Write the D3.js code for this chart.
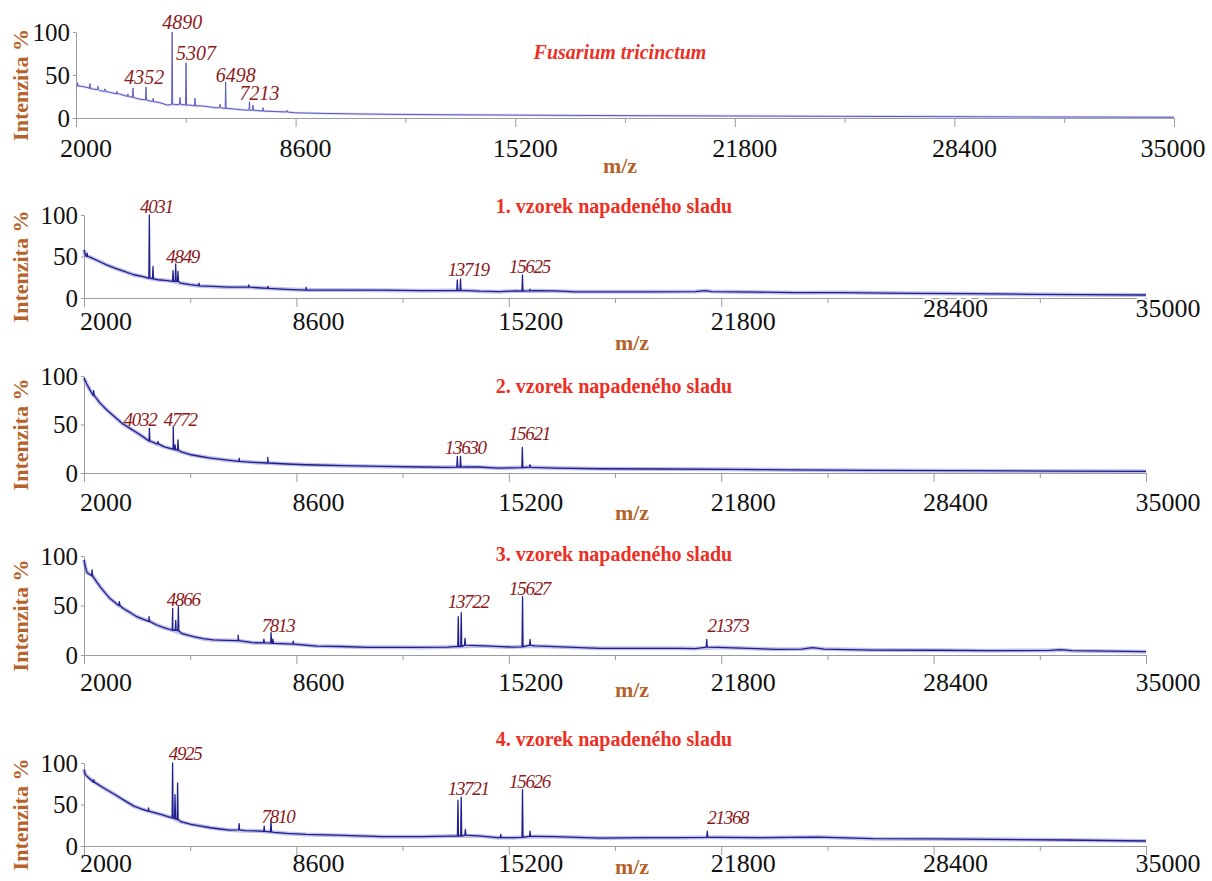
<!DOCTYPE html>
<html>
<head>
<meta charset="utf-8">
<script src="https://cdn.jsdelivr.net/npm/d3@7"></script>
<style>
  body { margin: 0; background: #fff; }
  svg { display: block; }
  svg text { font-family: "Liberation Serif", "Times New Roman", serif !important; }
</style>
</head>
<body>
<div id="chart"></div>
<script>
var w = 1212, h = 881;
var serif = "'Liberation Serif', 'Times New Roman', serif";

// axis values
var mzTicks = [2000, 8600, 15200, 21800, 28400, 35000];
var mzMinor = [5300, 11900, 18500, 25100, 31700];
var yTicks = [0, 50, 100];

var titles = ["Fusarium tricinctum",
              "1. vzorek napadeného sladu",
              "2. vzorek napadeného sladu",
              "3. vzorek napadeného sladu",
              "4. vzorek napadeného sladu"];

// baseline of each spectrum: [m/z, intensity %]
var base1 = [[2000,38],[2150,37],[2400,35],[2700,32],[3000,30],[3300,28],[3600,25],[3900,22],[4200,20],
  [4500,18],[4750,15],[5100,15.5],[5400,15],[5800,14],[6200,12],[6600,11],[7000,9.5],[7500,8.5],[8000,7.5],
  [8600,6],[9500,5.3],[10500,4.7],[11700,4.2],[13000,3.8],[15000,3.4],[17000,3],[19000,2.7],[22000,2.3],
  [25000,1.9],[28000,1.6],[31000,1.2],[35000,0.9]];
var base2 = [[2000,58],[2050,51],[2200,49],[2480,44],[2700,40],[2960,36],[3250,32],[3550,28],[3800,26],
  [4000,24],[4300,22],[4600,21],[4750,20],[5000,18],[5300,16],[5600,14.5],[6000,14],[6500,13],[7100,13],
  [7700,11.7],[8300,10.5],[8900,9.6],[10000,9.5],[11300,9.4],[12500,8.8],[13400,9],[13900,9],[14300,8.2],
  [14900,7.6],[15400,8.5],[16000,8.8],[16600,8.5],[17300,7.5],[18000,7.4],[19500,7.5],[21000,7.8],
  [21300,8.8],[21500,7.8],[23000,7],[24100,6.4],[25500,6.5],[27700,5.6],[29500,5.2],[31400,4.4],[33000,4],
  [35000,3.6]];
var base3 = [[2000,98],[2080,92],[2180,86],[2250,82],[2360,78],[2500,72],[2710,65],[2950,58],[3190,51],
  [3430,46],[3670,41],[3850,37],[4020,33],[4260,30],[4500,27],[4770,24.6],[5050,21.5],[5330,18.8],
  [5630,17],[5930,15.4],[6400,13.5],[6820,12],[7250,11],[7710,10.3],[8300,9.3],[8900,8.5],[9500,8],
  [10080,7.5],[11280,6.8],[12470,6.2],[13300,5.8],[13900,6.4],[14250,6.2],[14850,5.1],[15300,5.3],
  [15900,5.8],[16630,5.1],[18035,4.4],[20000,4.1],[22000,3.8],[24000,3.2],[26530,2.7],[29000,2.4],
  [32000,2],[35000,1.7]];
var base4 = [[2000,96],[2050,88],[2100,83],[2240,81],[2350,76],[2500,69],[2650,63],[2810,57],[3000,52],
  [3220,47],[3430,43],[3640,38.7],[3850,36],[4020,34.6],[4260,30.3],[4500,27.5],[4760,25],[5050,21.5],
  [5400,18.5],[5700,16.5],[6010,15.2],[6400,14.8],[6790,14.5],[7250,12.4],[7800,12],[8500,11],[9230,9],
  [10000,8.6],[10785,7.8],[11820,7.8],[12470,7.7],[13300,8],[13530,8.4],[14250,9.4],[14960,8.4],
  [15300,8],[16000,9.2],[16630,8.4],[18035,6.7],[20460,6.7],[21000,6.5],[21700,7.8],[23490,5.7],
  [24300,6],[24640,7.4],[25000,6],[26520,5],[28500,4.8],[30150,4.4],[32000,4.6],[32350,5.4],
  [32700,4.4],[35000,3.4]];
var base5 = [[2000,92],[2040,86],[2150,82],[2357,76],[2650,69],[2957,62],[3250,55],[3553,48],[3800,44.5],
  [4004,42],[4385,38],[4735,34],[5030,29],[5330,26],[5630,24],[5930,22],[6230,20.5],[6525,19.2],
  [7000,18.5],[7470,18],[7900,16.5],[8310,15.2],[8900,14],[10080,12.8],[11280,11.2],[12470,11.2],
  [13420,12],[14250,12.2],[14850,10],[15325,10],[16000,11.5],[16630,11.2],[18035,9.5],[19500,10],
  [20460,10],[21600,10.5],[23000,10],[24810,10.8],[26520,8.8],[28500,8.5],[30150,8],[32500,7.2],
  [35000,6]];

// peaks: [m/z, foot intensity, apex intensity]
var peaks1 = [[2050,37,41],[2420,34,40],[2660,33,37],[2870,31,34],[3230,28,31],[3560,25,28],[3713,24,35],
  [4104,21,36],[4320,19,23],[4890,16,100],[5126,16,24],[5307,15,64],[5577,14,23],[6330,12,16],
  [6498,11,42],[7213,9,19],[7320,9,15],[7620,8,12],[8340,7,9]];
var peaks2 = [[2100,50,54],[4031,24,100],[4144,23,38],[4766,20,33],[4849,20,41],[4920,20,32],
  [5574,15,18],[7120,13,15.7],[7718,11.7,14],[8900,9.6,13],[13600,9,21.7],[13700,9,23],
  [15625,8.2,27.7],[15860,8.5,10.5]];
var peaks3 = [[2300,80,85],[4032,33,46],[4300,30,32.5],[4772,24.6,48],[4830,24,29],[4920,23.5,34],
  [6820,12,15.4],[7710,10.3,16],[13600,6,17],[13700,6,17],[15621,5.5,26.3],[15860,6,8.5]];
var peaks4 = [[2250,80,86],[3100,50,54],[4020,34,38.7],[4756,25,47],[4850,25,35],[4932,24.5,48.8],
  [6790,14.5,20],[7590,12.2,16],[7813,12,22.5],[7870,11.8,16],[8500,11,14],[13630,8.5,38.7],
  [13722,8.5,42.7],[13840,10,16.8],[15627,8.2,58.9],[15860,10,15.8],[21350,8,15.8]];
var peaks5 = [[2300,77,80],[4004,42,46],[4753,34,100],[4828,33,62],[4909,32,76],[6820,19.5,26.9],
  [7600,17.5,24],[7810,17,30],[13620,12,55],[13721,12,59],[13850,13,20],[14950,10,14],
  [15626,10.5,68],[15860,11.5,18],[21368,10.5,18]];

// peak labels: [m/z, intensity of label baseline, anchor]
var labels1 = [[4352,40,"end"],[4890,104],[5307,68],[6498,42.4],[7213,21.5]];
var labels2 = [[4031,102],[4849,42],[13719,26.7],[15625,30.7]];
var labels3 = [[4032,48,"end"],[4772,48],[13630,20],[15621,34.4]];
var labels4 = [[4866,49],[7813,23.7],[13722,47.5],[15627,60.8],[21373,23.7,"start"]];
var labels5 = [[4925,104],[7810,27.5],[13721,61],[15626,70],[21368,26.3,"start"]];

// page layout of the five stacked panels
var layout = [
  {x0: 76, x1: 1174, top: 32,  axis: 118, titleX: 620, titleY: 59,  tickY: 157, mzX: 620, mzY: 173, labShift: 10, peakShift: 10},
  {x0: 84, x1: 1146, top: 215, axis: 298, titleX: 614, titleY: 213, tickY: 330, mzX: 632, mzY: 350, labShift: 22, peakShift: 7},
  {x0: 84, x1: 1146, top: 376, axis: 473, titleX: 614, titleY: 393, tickY: 511, mzX: 632, mzY: 520, labShift: 22, peakShift: 7},
  {x0: 84, x1: 1146, top: 556, axis: 655, titleX: 614, titleY: 561, tickY: 691, mzX: 632, mzY: 697, labShift: 22, peakShift: 7},
  {x0: 84, x1: 1146, top: 763, axis: 846, titleX: 614, titleY: 746, tickY: 872, mzX: 632, mzY: 874, labShift: 22, peakShift: 7}
];

var spectra = [
  {base: base1, peaks: peaks1, labels: labels1},
  {base: base2, peaks: peaks2, labels: labels2},
  {base: base3, peaks: peaks3, labels: labels3},
  {base: base4, peaks: peaks4, labels: labels4},
  {base: base5, peaks: peaks5, labels: labels5}
];

var brown = "#b5632b", titleRed = "#ec2f24", peakRed = "#8c1a1c", axisGrey = "#9c9c9c";
var halfWidth = 16; // half width of a peak in m/z units

var svg = d3.select("#chart").append("svg")
  .attr("width", w)
  .attr("height", h)
  .attr("font-family", serif);

spectra.forEach(function(sp, i) {
  var L = layout[i];
  var x = d3.scaleLinear().domain([2000, 35000]).range([L.x0, L.x1]);
  var y = d3.scaleLinear().domain([0, 100]).range([L.axis, L.top]);
  var g = svg.append("g");

  // x axis: major and minor ticks, labels drawn separately
  g.append("g")
    .attr("transform", "translate(0," + L.axis + ")")
    .call(d3.axisBottom(x).tickValues(mzMinor).tickSize(5).tickSizeOuter(0).tickFormat(""));
  g.append("g")
    .attr("transform", "translate(0," + L.axis + ")")
    .call(d3.axisBottom(x).tickValues(mzTicks).tickSize(9).tickSizeOuter(0).tickFormat(""));

  // y axis
  var ya = g.append("g")
    .attr("transform", "translate(" + L.x0 + ",0)")
    .call(d3.axisLeft(y).tickValues(yTicks).tickSize(3).tickSizeOuter(0).tickPadding(3));
  ya.attr("font-family", serif);
  ya.selectAll("text")
    .style("font-family", serif)
    .style("font-size", "25px")
    .attr("fill", "#111");

  g.selectAll(".domain, .tick line").attr("stroke", axisGrey);

  // x tick labels
  g.selectAll(".xlab")
    .data(mzTicks)
    .enter().append("text")
    .attr("class", "xlab")
    .attr("x", function(d) { return Math.min(x(d) + L.labShift, w - 39); })
    .attr("y", function(d) { return (i == 1 && d >= 28400) ? L.tickY - 13 : L.tickY; })
    .attr("text-anchor", "middle")
    .style("font-family", serif)
    .style("font-size", "26px")
    .attr("fill", "#111")
    .attr("stroke", function(d) { return (i == 1 && d >= 28400) ? "#fff" : "none"; })
    .attr("stroke-width", 4)
    .attr("paint-order", "stroke")
    .text(function(d) { return d; });

  // axis titles
  g.append("text")
    .attr("transform", "translate(28," + ((L.top + L.axis) / 2 + 10) + ") rotate(-90)")
    .attr("text-anchor", "middle")
    .style("font-family", serif)
    .style("font-size", "22px")
    .style("font-weight", "bold")
    .attr("fill", brown)
    .text("Intenzita %");

  g.append("text")
    .attr("x", L.mzX)
    .attr("y", L.mzY)
    .attr("text-anchor", "middle")
    .style("font-family", serif)
    .style("font-size", "22px")
    .style("font-weight", "bold")
    .attr("fill", brown)
    .text("m/z");

  g.append("text")
    .attr("x", L.titleX)
    .attr("y", L.titleY)
    .attr("text-anchor", "middle")
    .style("font-family", serif)
    .style("font-size", "20px")
    .style("font-weight", "bold")
    .style("font-style", i == 0 ? "italic" : "normal")
    .attr("fill", titleRed)
    .text(titles[i]);

  // spectrum
  var line = d3.line()
    .x(function(d) { return x(d[0]); })
    .y(function(d) { return y(d[1]); });

  var pts = sp.base.slice();
  sp.peaks.forEach(function(p) {
    pts.push([p[0] - halfWidth, p[1]], [p[0], p[2]], [p[0] + halfWidth, p[1]]);
  });
  pts.sort(function(a, b) { return a[0] - b[0]; });

  g.append("path")
    .datum(sp.base)
    .attr("d", line)
    .attr("fill", "none")
    .attr("stroke", i == 0 ? "#b9b9ea" : "#8a8ad6")
    .attr("stroke-opacity", 0.55)
    .attr("stroke-width", i == 0 ? 2.5 : 4)
    .attr("stroke-linejoin", "round");

  g.append("path")
    .datum(pts)
    .attr("d", line)
    .attr("fill", "none")
    .attr("stroke", i == 0 ? "#5b5bc4" : "#1f1f8e")
    .attr("stroke-width", i == 0 ? 1 : 1.3)
    .attr("stroke-linejoin", "round");

  // peak labels
  g.selectAll(".plab")
    .data(sp.labels)
    .enter().append("text")
    .attr("class", "plab")
    .attr("x", function(d) { return d[2] == "start" ? x(d[0]) : x(d[0]) + L.peakShift; })
    .attr("y", function(d) { return y(d[1]); })
    .attr("text-anchor", function(d) { return d[2] || "middle"; })
    .style("font-family", serif)
    .style("font-size", i == 0 ? "20px" : "19px")
    .style("font-style", "italic")
    .style("letter-spacing", i == 0 ? "0px" : "-1.3px")
    .attr("fill", peakRed)
    .text(function(d) { return d[0]; });
});
</script>
</body>
</html>
